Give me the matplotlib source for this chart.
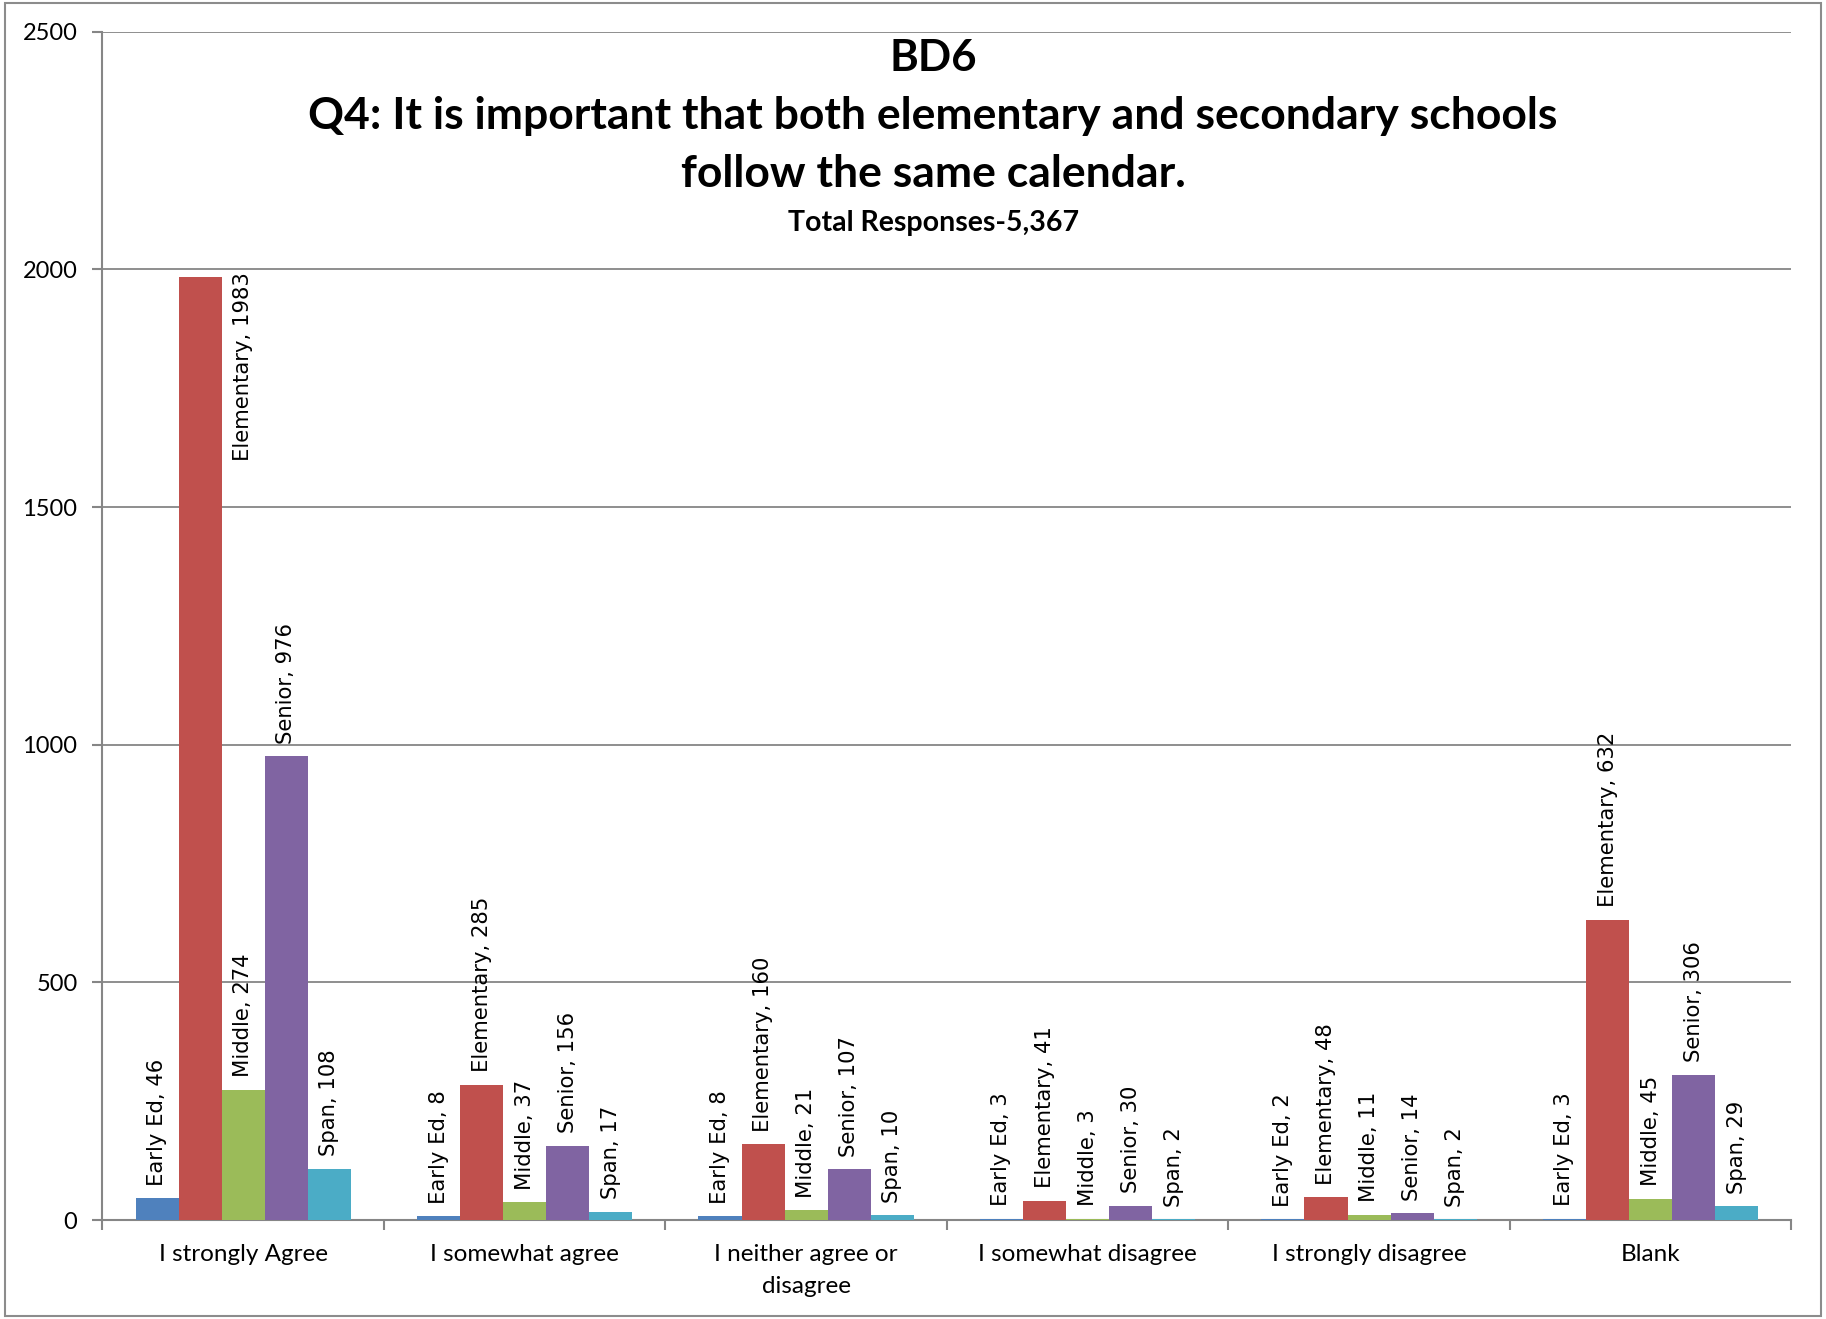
import numpy as np
import matplotlib
matplotlib.use("Agg")
import matplotlib.pyplot as plt
from matplotlib.patches import Rectangle

categories = ["I strongly Agree", "I somewhat agree", "I neither agree or\ndisagree",
              "I somewhat disagree", "I strongly disagree", "Blank"]
series = ["Early Ed", "Elementary", "Middle", "Senior", "Span"]
early_ed = [46, 8, 8, 3, 2, 3]
elementary = [1983, 285, 160, 41, 48, 632]
middle = [274, 37, 21, 3, 11, 45]
senior = [976, 156, 107, 30, 14, 306]
span = [108, 17, 10, 2, 2, 29]
values = [early_ed, elementary, middle, senior, span]
colors = ["#4F81BD", "#C0504D", "#9BBB59", "#8064A2", "#4BACC6"]

label_font = "Lato"
grey = "#868686"

fig = plt.figure(figsize=(18.26, 13.19), dpi=100)
ax = fig.add_axes([0.0561, 0.075, 0.9249, 0.901])

x = np.arange(len(categories))
w = 0.153
ymax = 2500
for i, (name, vals, c) in enumerate(zip(series, values, colors)):
    xs = x + (i - 2) * w
    ax.bar(xs, vals, width=w, color=c, zorder=3)
    for xi, v in zip(xs, vals):
        txt = f"{name}, {v}"
        if v > 0.7 * ymax:
            # no room above: Excel moves it beside the bar, hanging down
            ax.annotate(txt, (xi + w, v), xytext=(0, 4), textcoords="offset points",
                        rotation=90, ha="center", va="top", fontsize=15.2)
        else:
            ax.annotate(txt, (xi, v), xytext=(0, 9), textcoords="offset points",
                        rotation=90, ha="center", va="bottom", fontsize=15.2)

ax.set_xlim(-0.5, len(categories) - 0.5)
ax.set_ylim(0, ymax)
ax.set_yticks(np.arange(0, 2501, 500))
ax.yaxis.grid(True, color=grey, lw=1.3, zorder=0)
ax.set_axisbelow(True)
for s in ["top", "right"]:
    ax.spines[s].set_visible(False)
for s in ["left", "bottom"]:
    ax.spines[s].set_color(grey)
    ax.spines[s].set_linewidth(1.5)

ax.set_xticks(x)
ax.set_xticklabels(categories, fontsize=17.5, family=label_font, linespacing=1.65)
ax.set_xticks(np.arange(-0.5, len(categories)), minor=True)
ax.tick_params(axis="x", which="major", length=0, pad=17)
ax.tick_params(axis="x", which="minor", length=7, color=grey, width=1.5)
ax.tick_params(axis="y", length=7, color=grey, width=1.5, pad=11, labelsize=17)
for t in ax.get_yticklabels():
    t.set_family(label_font)

fig.text(0.511, 0.956, "BD6", ha="center", va="center", fontsize=31.5,
         fontweight="bold", family=label_font)
fig.text(0.511, 0.912, "Q4: It is important that both elementary and secondary schools",
         ha="center", va="center", fontsize=32, fontweight="bold", family=label_font)
fig.text(0.511, 0.868, "follow the same calendar.", ha="center", va="center",
         fontsize=32, fontweight="bold", family=label_font)
fig.text(0.511, 0.831, "Total Responses-5,367", ha="center", va="center",
         fontsize=20.5, fontweight="bold", family=label_font)

fig.patches.append(Rectangle((0.003, 0.002), 0.994, 0.996, transform=fig.transFigure,
                             fill=False, edgecolor="#8c8c8c", lw=1.5))

fig.savefig("out.png", dpi=100)
